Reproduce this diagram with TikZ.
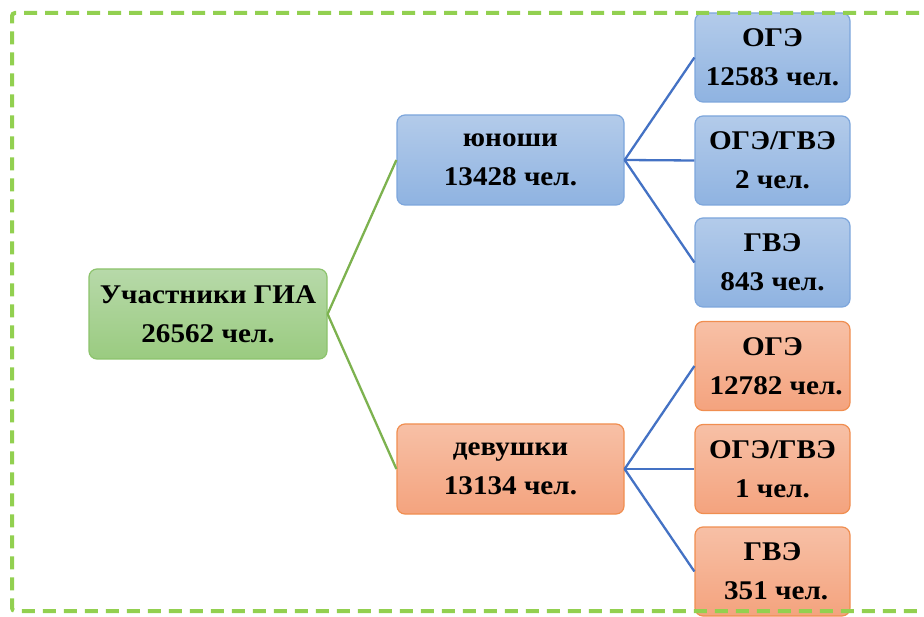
\documentclass[tikz,border=0pt]{standalone}
\usepackage{fontspec}
\setmainfont{Liberation Serif}[BoldFont={Liberation Serif Bold}, FakeStretch=1.08]
\definecolor{gtop}{HTML}{B7D9A9}
\definecolor{gbot}{HTML}{9ACB80}
\definecolor{gline}{HTML}{8CC36C}
\definecolor{btop}{HTML}{B3CBEA}
\definecolor{bbot}{HTML}{8FB3E1}
\definecolor{bline}{HTML}{7DA6DC}
\definecolor{otop}{HTML}{F7C0A6}
\definecolor{obot}{HTML}{F4A37E}
\definecolor{oline}{HTML}{F08E50}
\definecolor{conG}{HTML}{7DB24F}
\definecolor{conB}{HTML}{4472C4}
\definecolor{frame}{HTML}{92D050}
\tikzset{
  box/.style={rounded corners=8pt, line width=1.2pt, align=center,
    font=\fontsize{27}{39}\selectfont\bfseries, inner sep=0pt},
  gbox/.style={box, draw=gline, top color=gtop, bottom color=gbot, minimum width=238pt, minimum height=90pt},
  bbox/.style={box, draw=bline, top color=btop, bottom color=bbot},
  obox/.style={box, draw=oline, top color=otop, bottom color=obot},
  midw/.style={minimum width=227pt, minimum height=90pt},
  leaf/.style={minimum width=155pt, minimum height=89pt},
  gcon/.style={draw=conG, line width=2.3pt},
  bcon/.style={draw=conB, line width=2.3pt},
}
\begin{document}
\begin{tikzpicture}[x=1pt,y=1pt]
\useasboundingbox (0,0) rectangle (924,-617);
\node[gbox] (root) at (208,-314) {Участники ГИА\\26562 чел.};
\node[bbox,midw] (boys) at (510.5,-160) {юноши\\13428 чел.};
\node[obox,midw] (girls) at (510.5,-469) {девушки\\13134 чел.};
\node[bbox,leaf] (b1) at (772.5,-57.5) {ОГЭ\\12583 чел.};
\node[bbox,leaf] (b2) at (772.5,-160.5) {ОГЭ/ГВЭ\\2 чел.};
\node[bbox,leaf] (b3) at (772.5,-262.5) {ГВЭ\\843 чел.};
\node[obox,leaf] (g1) at (772.5,-366) {ОГЭ\\\ 12782 чел.};
\node[obox,leaf] (g2) at (772.5,-469) {ОГЭ/ГВЭ\\1 чел.};
\node[obox,leaf] (g3) at (772.5,-571.5) {ГВЭ\\\ 351 чел.};
\draw[gcon] (root.east) -- (boys.west);
\draw[gcon] (root.east) -- (girls.west);
\foreach \t in {b1,b2,b3} \draw[bcon] (boys.east) -- (\t.west);
\foreach \t in {g1,g2,g3} \draw[bcon] (girls.east) -- (\t.west);
\draw[frame, line width=4pt, dash pattern=on 13pt off 8pt, rounded corners=3pt]
  (940,-13) -- (12,-13) -- (12,-611) -- (940,-611);
\end{tikzpicture}
\end{document}
